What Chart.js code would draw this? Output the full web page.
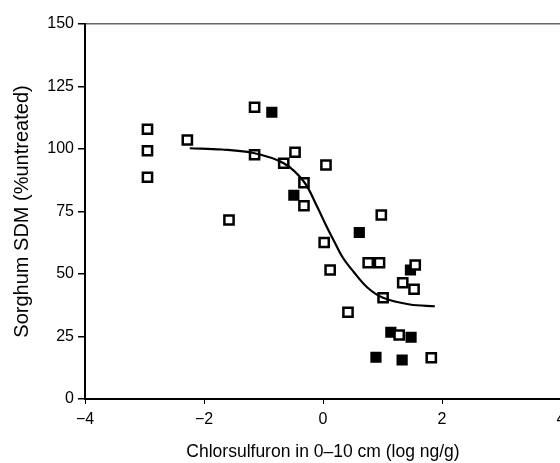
<!DOCTYPE html>
<html>
<head>
<meta charset="utf-8">
<script src="https://cdn.jsdelivr.net/npm/chart.js@4/dist/chart.umd.min.js"></script>
<style>
  html, body { margin: 0; padding: 0; background: #fff; overflow: hidden; }
  #wrap { width: 600px; height: 463px; }
</style>
</head>
<body>
<div id="wrap"><canvas id="myChart" width="600" height="463"></canvas></div>
<script>
// valores
const openX = [-2.95, -2.95, -2.95, -2.28, -1.15, -1.15, -0.47, -0.66, 0.05, -0.32, -0.32, -1.58, 0.02, 0.98, 0.12, 0.76, 0.95, 1.55, 1.34, 1.53, 1.01, 0.42, 1.28, 1.82];
const openY = [107.9, 99.3, 88.7, 103.6, 116.7, 97.7, 98.7, 94.3, 93.6, 86.5, 77.3, 71.6, 62.6, 73.6, 51.6, 54.5, 54.5, 53.6, 46.5, 43.9, 40.5, 34.7, 25.6, 16.5];

const filledX = [-0.86, -0.49, 0.61, 1.47, 1.14, 1.48, 0.89, 1.33];
const filledY = [114.7, 81.5, 66.6, 51.6, 26.7, 24.7, 16.7, 15.6];

// curva ajustada
const curveX = [-2.24, -1.7, -1.15, -0.66, -0.32, -0.1, 0.06, 0.2, 0.34, 0.51, 0.75, 1.01, 1.46, 1.88];
const curveY = [100.3, 99.8, 98.3, 94.3, 86.9, 77, 69, 62.5, 56.3, 51, 44.5, 40.5, 37.8, 37.1];

const xTicks = [-4, -2, 0, 2, 4];
const yTicks = [0, 25, 50, 75, 100, 125, 150];

function pts(xs, ys) {
    return xs.map((x, i) => ({ x: x, y: ys[i] }));
}

Chart.defaults.font.family = "'Liberation Sans', Arial, sans-serif";
Chart.defaults.color = '#000';

const ctx = document.getElementById('myChart').getContext('2d');

const myChart = new Chart(ctx, {
    type: 'scatter',
    data: {
        datasets: [{
            label: 'fit',
            data: pts(curveX, curveY),
            showLine: true,
            borderColor: '#000',
            borderWidth: 2.2,
            pointRadius: 0,
            tension: 0.35
        }, {
            label: 'open',
            data: pts(openX, openY),
            pointStyle: 'rect',
            pointRadius: 6.5,
            pointBackgroundColor: '#fff',
            pointBorderColor: '#000',
            pointBorderWidth: 2.5
        }, {
            label: 'filled',
            data: pts(filledX, filledY),
            pointStyle: 'rect',
            pointRadius: 6.5,
            pointBackgroundColor: '#000',
            pointBorderColor: '#000',
            pointBorderWidth: 2
        }]
    },
    options: {
        responsive: false,
        animation: false,
        layout: { padding: { top: 24, right: 39, left: 0, bottom: 0 } },
        plugins: {
            legend: { display: false },
            tooltip: { enabled: false }
        },
        scales: {
            x: {
                min: -4,
                max: 4,
                afterBuildTicks: s => { s.ticks = xTicks.map(v => ({ value: v })); },
                afterFit: s => { s.height = 64; },
                border: { color: '#000', width: 2 },
                grid: {
                    color: 'transparent',
                    tickColor: '#000',
                    tickLength: 5
                },
                ticks: {
                    font: { size: 16 },
                    padding: 6,
                    callback: v => v < 0 ? '\u2212' + Math.abs(v) : v
                },
                title: {
                    display: true,
                    text: 'Chlorsulfuron in 0\u201310 cm (log ng/g)',
                    font: { size: 17.5 },
                    padding: { top: 7, bottom: 0 }
                }
            },
            y: {
                min: 0,
                max: 150,
                afterBuildTicks: s => { s.ticks = yTicks.map(v => ({ value: v })); },
                afterFit: s => { s.width = 85; },
                border: { color: '#000', width: 2 },
                grid: {
                    color: c => c.tick && c.tick.value === 150 ? '#666' : 'transparent',
                    lineWidth: 1.5,
                    tickColor: '#000',
                    tickLength: 7
                },
                ticks: {
                    font: { size: 16 },
                    padding: 4
                },
                title: {
                    display: true,
                    text: 'Sorghum SDM (%untreated)',
                    font: { size: 20 },
                    padding: { top: 10, bottom: 0 }
                }
            }
        }
    }
});
</script>
</body>
</html>
